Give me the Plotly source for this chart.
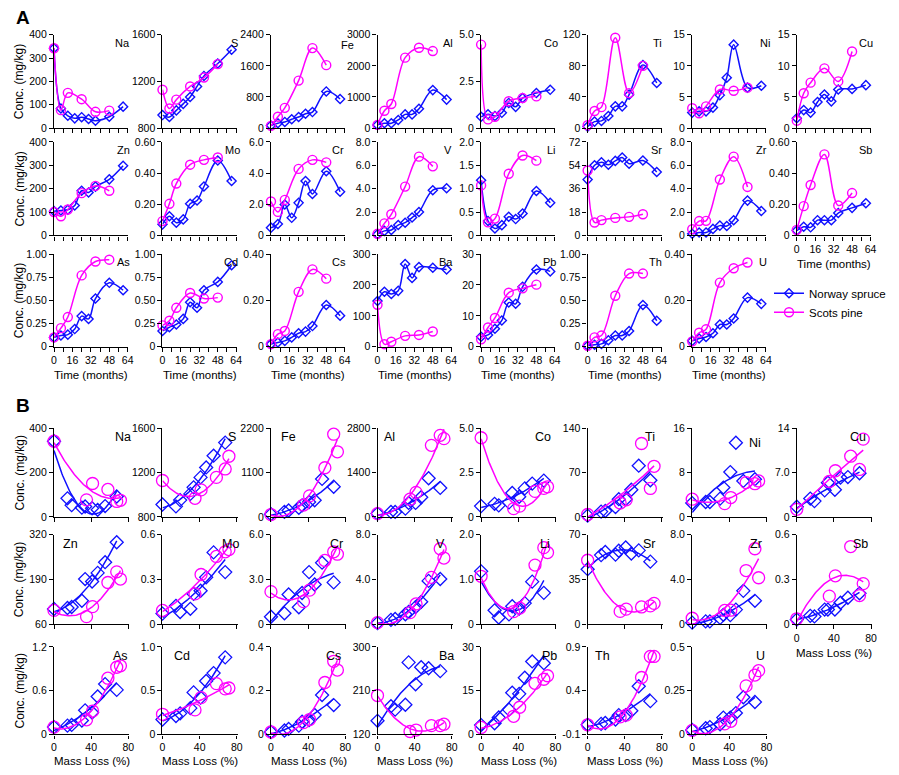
import numpy as np
import plotly.graph_objects as go

# sampling times (months) and mass loss (%) at each sampling
spruce_t = [0, 6, 12, 18, 24, 30, 36, 48, 60]
pine_t = [0, 6, 12, 24, 36, 48]
spruce_ml = [0, 14.5, 19, 30, 33.5, 41, 47, 55, 67.5]
pine_ml = [0, 35, 41.5, 58, 67.5, 71.5]

elements = ["Na", "S", "Fe", "Al", "Co", "Ti", "Ni", "Cu",
            "Zn", "Mo", "Cr", "V", "Li", "Sr", "Zr", "Sb",
            "As", "Cd", "Cs", "Ba", "Pb", "Th", "U"]

# concentrations (mg/kg)
na_spruce = [342, 84, 53, 42, 47, 39, 32, 49, 92]
na_pine = [342, 77, 151, 124, 70, 75]
s_spruce = [912, 895, 952, 1008, 1067, 1157, 1247, 1353, 1471]
s_pine = [1129, 968, 1044, 1157, 1233, 1348]
fe_spruce = [67, 126, 160, 227, 286, 370, 413, 943, 750]
fe_pine = [59, 295, 522, 1221, 2055, 1617]
al_spruce = [105, 158, 158, 263, 442, 442, 621, 1221, 916]
al_pine = [105, 560, 775, 2263, 2579, 2474]
co_spruce = [0.61, 0.74, 0.65, 0.82, 1.35, 1.14, 1.61, 1.88, 2.05]
co_pine = [4.47, 0.47, 0.61, 1.44, 1.61, 1.70]
ti_spruce = [2, 8.4, 9.3, 15.6, 28, 28, 43, 81, 58]
ti_pine = [3.8, 22, 27, 116, 45, 80]
ni_spruce = [2.5, 2.7, 2.7, 3.3, 5.3, 8.1, 13.4, 6.5, 6.8]
ni_pine = [3.2, 2.4, 3.5, 6.2, 6.0, 6.5]
cu_spruce = [1.6, 2.9, 2.5, 4.2, 5.4, 4.3, 6.2, 6.3, 6.9]
cu_pine = [1.2, 5.6, 7.3, 9.6, 7.5, 12.3]

zn_spruce = [104, 107, 110, 128, 191, 184, 209, 240, 298]
zn_pine = [100, 82, 111, 181, 212, 191]
mo_spruce = [0.071, 0.123, 0.082, 0.103, 0.203, 0.224, 0.314, 0.481, 0.349]
mo_pine = [0.092, 0.203, 0.333, 0.454, 0.485, 0.500]
cr_spruce = [0.50, 0.73, 1.99, 1.13, 2.09, 3.49, 2.66, 4.12, 2.80]
cr_pine = [2.18, 1.51, 2.28, 4.27, 4.85, 4.69]
v_spruce = [0.11, 0.39, 0.47, 0.89, 1.09, 1.53, 2.0, 3.87, 4.04]
v_pine = [0.14, 1.03, 1.81, 4.18, 6.74, 5.91]
li_spruce = [1.18, 0.31, 0.15, 0.22, 0.40, 0.35, 0.47, 0.95, 0.70]
li_pine = [1.07, 0.28, 0.36, 1.32, 1.71, 1.60]
sr_spruce = [43, 54, 56.4, 54.4, 57.4, 60, 55.2, 57.7, 48.9]
sr_pine = [50, 10, 11.8, 13.5, 14.3, 16.3]
zr_spruce = [0.14, 0.25, 0.25, 0.56, 0.84, 0.81, 1.3, 2.98, 2.09]
zr_pine = [0.53, 1.23, 1.25, 4.79, 6.74, 4.15]
sb_spruce = [0.031, 0.056, 0.052, 0.098, 0.098, 0.098, 0.144, 0.177, 0.207]
sb_pine = [0.036, 0.188, 0.324, 0.52, 0.192, 0.272]

as_spruce = [0.10, 0.12, 0.13, 0.19, 0.33, 0.30, 0.52, 0.69, 0.61]
as_pine = [0.10, 0.20, 0.32, 0.77, 0.92, 0.94]
cd_spruce = [0.17, 0.21, 0.24, 0.30, 0.48, 0.42, 0.61, 0.70, 0.88]
cd_pine = [0.23, 0.28, 0.42, 0.58, 0.52, 0.53]
cs_spruce = [0.011, 0.018, 0.025, 0.04, 0.058, 0.065, 0.089, 0.18, 0.134]
cs_pine = [0.011, 0.054, 0.068, 0.237, 0.334, 0.294]
ba_spruce = [148, 178, 171, 181, 268, 223, 258, 256, 250]
ba_pine = [136, 8, 16, 35, 38, 49]
ba_pine_b = [200, 126, 129, 138, 138, 141]   # as plotted in panel B
pb_spruce = [3.2, 3.8, 5.8, 8.5, 14.3, 13.9, 19.4, 25.0, 24.4]
pb_pine = [2.4, 6.2, 9.3, 17.5, 18.9, 20.1]
th_spruce = [0.01, 0.02, 0.03, 0.07, 0.12, 0.12, 0.17, 0.45, 0.28]
th_pine = [0.01, 0.10, 0.12, 0.55, 0.79, 0.79]
u_spruce = [0.025, 0.035, 0.042, 0.058, 0.096, 0.096, 0.122, 0.212, 0.185]
u_pine = [0.023, 0.06, 0.075, 0.277, 0.339, 0.364]

spruce_a = [na_spruce, s_spruce, fe_spruce, al_spruce, co_spruce, ti_spruce, ni_spruce, cu_spruce,
            zn_spruce, mo_spruce, cr_spruce, v_spruce, li_spruce, sr_spruce, zr_spruce, sb_spruce,
            as_spruce, cd_spruce, cs_spruce, ba_spruce, pb_spruce, th_spruce, u_spruce]
pine_a = [na_pine, s_pine, fe_pine, al_pine, co_pine, ti_pine, ni_pine, cu_pine,
          zn_pine, mo_pine, cr_pine, v_pine, li_pine, sr_pine, zr_pine, sb_pine,
          as_pine, cd_pine, cs_pine, ba_pine, pb_pine, th_pine, u_pine]
pine_b = pine_a[:19] + [ba_pine_b] + pine_a[20:]

# y tick labels, panel A (time) and panel B (mass loss)
a_yticks = [["0", "100", "200", "300", "400"], ["800", "1200", "1600"], ["0", "800", "1600", "2400"],
            ["0", "1000", "2000", "3000"], ["0", "2.5", "5.0"], ["0", "40", "80", "120"],
            ["0", "5", "10", "15"], ["0", "5", "10", "15"],
            ["0", "100", "200", "300", "400"], ["0", "0.20", "0.40", "0.60"], ["0", "2.0", "4.0", "6.0"],
            ["0", "2.0", "4.0", "6.0", "8.0"], ["0", "0.5", "1.0", "1.5", "2.0"], ["0", "18", "36", "54", "72"],
            ["0", "2.0", "4.0", "6.0", "8.0"], ["0", "0.20", "0.40", "0.60"],
            ["0", "0.25", "0.50", "0.75", "1.00"], ["0", "0.25", "0.50", "0.75", "1.00"], ["0", "0.20", "0.40"],
            ["0", "100", "200", "300"], ["0", "10", "20", "30"], ["0", "0.25", "0.50", "0.75", "1.00"],
            ["0", "0.20", "0.40"]]
b_yticks = [["0", "200", "400"], ["800", "1200", "1600"], ["0", "1100", "2200"], ["0", "1400", "2800"],
            ["0", "2.5", "5.0"], ["0", "70", "140"], ["0", "8", "16"], ["0", "7.0", "14"],
            ["60", "190", "320"], ["0", "0.3", "0.6"], ["0", "3.0", "6.0"], ["0", "4.0", "8.0"],
            ["0", "1.0", "2.0"], ["0", "35", "70"], ["0", "4.0", "8.0"], ["0", "0.3", "0.6"],
            ["0", "0.6", "1.2"], ["0", "0.5", "1.0"], ["0", "0.2", "0.4"], ["120", "210", "300"],
            ["0", "15", "30"], ["-0.1", "0.4", "0.9"], ["0", "0.25", "0.5"]]
a_xticks = ["0", "16", "32", "48", "64"]
b_xticks = ["0", "40", "80"]

BLUE = "#1010ff"
MAG = "#ff00ff"
FONT = "Liberation Sans, Arial, sans-serif"
# the page body keeps its default 8px margin, so the figure is 16px smaller
# than the window and every target pixel is shifted by 8
OFF = 8
W, H = 899 - 2 * OFF, 775 - 2 * OFF


def px(x):
    return (x - OFF) / W


def py(y):
    return 1 - (y - OFF) / H


col_x = [52, 163, 274, 383, 489, 598, 705, 812]
rows_a = [(29, 124), (138, 233), (252, 346)]
rows_b = [(429, 519), (537, 628), (651, 740)]
a_lab_x = [1.05, 1.05, 1.14, 1.04, 1.06, 1.03, 1.07, 1.05,
           1.05, 1.07, 1.01, 1.03, 1.04, 1.03, 1.03, 1.04,
           1.05, 1.05, 1.04, 1.05, 1.04, 1.03, 1.03]
b_lab_x = [1.05, 1.0, 0.11, 0.06, 0.95, 0.92, 0.94, 0.95,
           0.09, 1.04, 0.99, 0.93, 0.94, 0.94, 0.96, 0.97,
           1.01, 0.12, 0.96, 1.04, 1.04, 0.07, 1.0]

fig = go.Figure()
annotations = []
axis_style = dict(showline=True, linecolor="black", linewidth=1.3, ticks="outside",
                  ticklen=4, tickwidth=1.2, tickcolor="black", showgrid=False, zeroline=False,
                  tickfont=dict(size=10.5, color="black", family=FONT))

n = 0
for panel in ["A", "B"]:
    rows = rows_a if panel == "A" else rows_b
    width = 76 if panel == "A" else 77
    for i, el in enumerate(elements):
        n += 1
        r, c = divmod(i, 8)
        top, bot = rows[r]
        x0 = col_x[c]
        sfx = "" if n == 1 else str(n)
        bottom_row = (r == 2) or (el == "Sb")

        if panel == "A":
            ylabs = a_yticks[i]
            xlabs = a_xticks
            xrange = [0, 64.5]
            minor = dict(tickvals=[8, 24, 40, 56], ticks="outside", ticklen=4,
                         tickwidth=1.2, tickcolor="black")
        else:
            ylabs = b_yticks[i]
            xlabs = b_xticks
            xrange = [0, 81]
            minor = None
        yvals = [float(v) for v in ylabs]
        xvals = [float(v) for v in xlabs]

        xaxis = dict(axis_style, domain=[px(x0), px(x0 + width)], anchor="y" + sfx,
                     range=xrange, tickvals=xvals, ticktext=xlabs, showticklabels=bottom_row)
        if minor:
            xaxis["minor"] = minor
        if panel == "B" and r == 2:
            xaxis["ticklen"] = 3
        yaxis = dict(axis_style, domain=[py(bot), py(top)], anchor="x" + sfx,
                     range=[yvals[0], yvals[-1]], tickvals=yvals, ticktext=ylabs)
        fig.update_layout({"xaxis" + sfx: xaxis, "yaxis" + sfx: yaxis})

        if panel == "A":
            series = [(spruce_t, spruce_a[i], BLUE, "diamond-open", 7, "Norway spruce"),
                      (pine_t, pine_a[i], MAG, "circle-open", 9, "Scots pine")]
            for xs, ys, col, sym, sz, name in series:
                fig.add_trace(go.Scatter(
                    x=xs, y=ys, xaxis="x" + sfx, yaxis="y" + sfx, mode="lines+markers",
                    name=name, showlegend=(n == 1), legendgroup=name, cliponaxis=False,
                    line=dict(color=col, width=1.5, shape="spline", smoothing=1.0),
                    marker=dict(symbol=sym, size=sz, color=col, line=dict(width=1.4, color=col))))
            lab_x = a_lab_x[i]
            lab_size = 11
        else:
            series = [(spruce_ml, spruce_a[i], BLUE, "diamond-open", 10),
                      (pine_ml, pine_b[i], MAG, "circle-open", 12)]
            for xs, ys, col, sym, sz in series:
                fig.add_trace(go.Scatter(
                    x=xs, y=ys, xaxis="x" + sfx, yaxis="y" + sfx, mode="markers",
                    showlegend=False, cliponaxis=False,
                    marker=dict(symbol=sym, size=sz, color=col, line=dict(width=1.3, color=col))))
                coef = np.polyfit(xs, ys, 2)
                xf = np.linspace(0, max(xs), 80)
                fig.add_trace(go.Scatter(
                    x=xf, y=np.polyval(coef, xf), xaxis="x" + sfx, yaxis="y" + sfx, mode="lines",
                    showlegend=False, cliponaxis=False, line=dict(color=col, width=1.5)))
            lab_x = b_lab_x[i]
            lab_size = 12.5

        lab_y = 0.97 if (panel == "A" and el == "Fe") else 1.0
        if panel == "B" and el == "Ni":
            lab_y = 0.94
        annotations.append(dict(text=el, xref="x" + sfx + " domain", yref="y" + sfx + " domain",
                                x=lab_x, y=lab_y, xanchor="right" if lab_x > 0.5 else "left",
                                yanchor="top", showarrow=False,
                                font=dict(size=lab_size, color="black", family=FONT)))
        if bottom_row:
            title = "Time (months)" if panel == "A" else "Mass Loss (%)"
            gap = 27 if (panel == "B" and r == 2) else 29
            annotations.append(dict(text=title, xref="paper", yref="paper",
                                    x=px(x0 + width / 2), y=py(bot + gap),
                                    xanchor="center", yanchor="middle", showarrow=False,
                                    font=dict(size=11.5, color="black", family=FONT)))
        if c == 0:
            annotations.append(dict(text="Conc. (mg/kg)", xref="paper", yref="paper",
                                    x=px(17), y=py((top + bot) / 2), textangle=-90,
                                    xanchor="center", yanchor="middle", showarrow=False,
                                    font=dict(size=12, color="black", family=FONT)))

for letter, ypx in [("A", 12), ("B", 406)]:
    annotations.append(dict(text="<b>" + letter + "</b>", xref="paper", yref="paper",
                            x=0.003, y=py(ypx), xanchor="left", yanchor="middle",
                            showarrow=False, font=dict(size=19, color="black", family=FONT)))

fig.update_layout(
    width=W, height=H, margin=dict(l=0, r=0, t=0, b=0),
    paper_bgcolor="white", plot_bgcolor="white",
    font=dict(family=FONT, color="black"),
    annotations=annotations,
    legend=dict(x=px(784), y=py(277), xanchor="left", yanchor="top",
                bgcolor="rgba(0,0,0,0)", font=dict(size=11.5, color="black", family=FONT),
                itemwidth=30, tracegroupgap=0),
)

fig.write_html("out.html")
